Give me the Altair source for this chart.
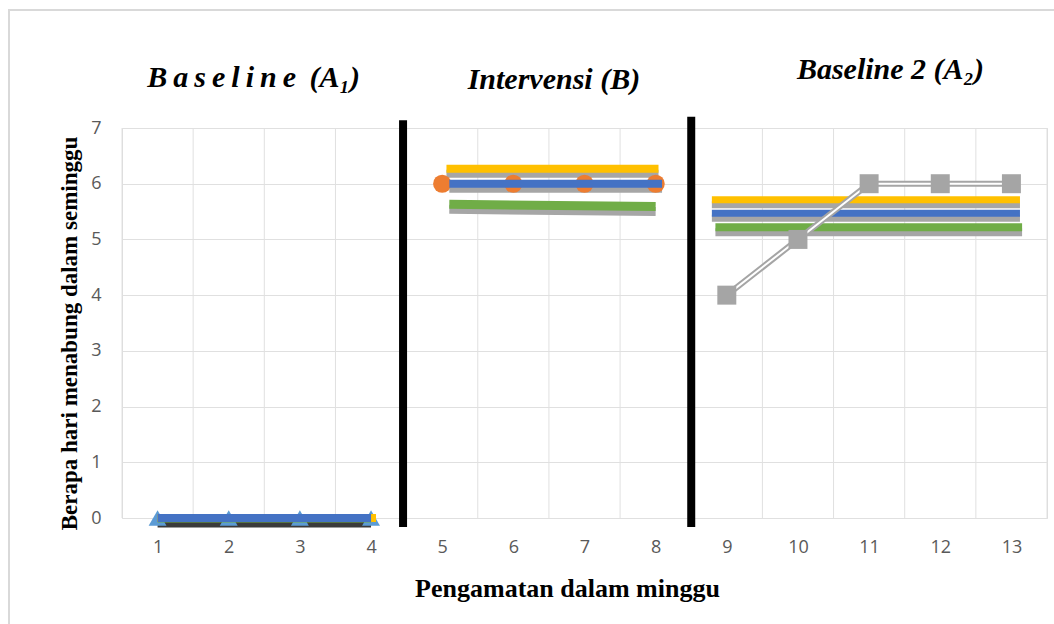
import altair as alt
import pandas as pd

# ---- data ----
weeks = [1, 2, 3, 4, 5, 6, 7, 8, 9, 10, 11, 12, 13]
y_ticks = [0, 1, 2, 3, 4, 5, 6, 7]
grid_x = [0.5, 1.5, 2.5, 3.5, 4.5, 5.5, 6.5, 7.5, 8.5, 9.5, 10.5, 11.5, 12.5, 13.5]

# Baseline A1
a1_x = [1, 2, 3, 4]
a1_y = [0, 0, 0, 0]
a1_yellow_x = [1, 4.07]
a1_yellow_y = [0, 0]

# Intervention B
b_x = [5, 6, 7, 8]
b_orange = [6, 6, 6, 6]
b_yellow_x = [5.06, 8.04]
b_yellow_y = [6.27, 6.27]
b_blue_x = [5.1, 8.09]
b_blue_y = [6.0, 6.0]
b_green_x = [5.1, 8.0]
b_green_y = [5.63, 5.59]

# Baseline A2
a2_x = [9, 10, 11, 12, 13]
a2_gray = [4, 5, 6, 6, 6]
a2_yellow_x = [8.79, 13.12]
a2_yellow_y = [5.71, 5.71]
a2_blue_x = [8.79, 13.12]
a2_blue_y = [5.47, 5.47]
a2_green_x = [8.84, 13.15]
a2_green_y = [5.22, 5.22]

# phase change lines
phase_x = [4.45, 8.5]
phase_y1 = [-0.16, -0.16]
phase_y2 = [7.14, 7.2]

# phase titles
phase_labels = ["B\u2009a\u2009s\u2009e\u2009l\u2009i\u2009n\u2009e\u2009 (A\u2081)", "Intervensi (B)", "Baseline 2 (A\u2082)"]
phase_label_x = [2.35, 6.57, 11.3]
phase_label_y = [7.9, 7.87, 8.05]

YELLOW = "#FFC000"
BLUE = "#4472C4"
ORANGE = "#ED7D31"
GRAY = "#A5A5A5"
GREEN = "#70AD47"
LBLUE = "#5B9BD5"
SHADOW = "#A6A6A6"

xs = alt.Scale(domain=[0.5, 13.5], nice=False, zero=False)
ys = alt.Scale(domain=[0, 7], nice=False, zero=False)

x_axis = alt.Axis(values=weeks, grid=False, domain=False, ticks=False, labelPadding=20,
                  labelFont="Open Sans", labelFontSize=18, labelColor="#595959",
                  title="Pengamatan dalam minggu", titleFont="Liberation Serif",
                  titleFontWeight="bold", titleFontSize=26, titleColor="#000000",
                  titleX=445, titleY=78, titleBaseline="alphabetic", titleAlign="center")
y_axis = alt.Axis(values=y_ticks, grid=True, gridColor="#e0e0e0", gridWidth=1,
                  domain=False, ticks=False, labelPadding=21,
                  labelFont="Open Sans", labelFontSize=18, labelColor="#595959",
                  title="Berapa hari menabung dalam seminggu", titleFont="Liberation Serif",
                  titleFontWeight="bold", titleFontSize=23, titleColor="#000000",
                  titleX=-53, titleY=205, titleAngle=-90, titleBaseline="middle",
                  titleAlign="center")


def X(field="x"):
    return alt.X(f"{field}:Q", scale=xs, axis=x_axis)


def Y(field="y"):
    return alt.Y(f"{field}:Q", scale=ys, axis=y_axis)


def df(x, y):
    return pd.DataFrame({"x": x, "y": y})


def line(x, y, color, width, yoff=0):
    return alt.Chart(df(x, y)).mark_line(color=color, strokeWidth=width, yOffset=yoff,
                                         clip=False, strokeCap="butt").encode(x=X(), y=Y())


def thick(x, y, color, width=8):
    return line(x, y, SHADOW, width, 5) + line(x, y, color, width)


layers = []

# outer border (decoration)
border = alt.Chart(pd.DataFrame({"a": [0]})).mark_rect(
    fill=None, stroke="#d9d9d9", strokeWidth=2, clip=False).encode(
    x=alt.value(-113), x2=alt.value(945), y=alt.value(-118), y2=alt.value(515))
layers.append(border)

# vertical gridlines
grid = alt.Chart(pd.DataFrame({"x": grid_x, "y": [0] * len(grid_x), "y2": [7] * len(grid_x)})).mark_rule(
    color="#e0e0e0", strokeWidth=1).encode(x=X(), y=Y(), y2="y2:Q")
layers.append(grid)

# Baseline A1
layers.append(line(a1_x, a1_y, "#3a3a3a", 7, 6))
layers.append(alt.Chart(df(a1_x, a1_y)).mark_point(shape="triangle-up", filled=True, size=320,
                                                  color=LBLUE, opacity=1, clip=False).encode(x=X(), y=Y()))
layers.append(line(a1_x, a1_y, GREEN, 3, 3))
layers.append(line(a1_yellow_x, a1_yellow_y, YELLOW, 8))
layers.append(line(a1_x, a1_y, BLUE, 8))

# Intervention B
layers.append(thick(b_yellow_x, b_yellow_y, YELLOW))
layers.append(line(b_blue_x, b_blue_y, SHADOW, 8, 5))
layers.append(alt.Chart(df(b_x, b_orange)).mark_circle(size=330, color=ORANGE, opacity=1,
                                                      clip=False).encode(x=X(), y=Y()))
layers.append(line(b_blue_x, b_blue_y, BLUE, 8))
layers.append(thick(b_green_x, b_green_y, GREEN, 9))

# Baseline A2
layers.append(thick(a2_yellow_x, a2_yellow_y, YELLOW, 7))
layers.append(thick(a2_blue_x, a2_blue_y, BLUE, 7))
layers.append(thick(a2_green_x, a2_green_y, GREEN, 8))
layers.append(line(a2_x, a2_gray, GRAY, 6))
layers.append(line(a2_x, a2_gray, "#ffffff", 2))
layers.append(alt.Chart(df(a2_x, a2_gray)).mark_square(size=360, color=GRAY, opacity=1,
                                                      clip=False).encode(x=X(), y=Y()))

# phase lines
phase = alt.Chart(pd.DataFrame({"x": phase_x, "y": phase_y1, "y2": phase_y2})).mark_rule(
    color="#000000", strokeWidth=8, clip=False).encode(x=X(), y=Y(), y2="y2:Q")
layers.append(phase)

# phase titles
titles = alt.Chart(pd.DataFrame({"x": phase_label_x, "y": phase_label_y, "t": phase_labels})).mark_text(
    font="Liberation Serif", fontStyle="italic", fontWeight="bold", fontSize=30,
    color="#000000", align="center", baseline="middle", clip=False).encode(
    x=X(), y=Y(), text="t:N")
layers.append(titles)

chart = alt.layer(*layers).properties(
    width=925, height=390,
    padding={"left": 122, "top": 128, "right": 7, "bottom": 106},
    autosize=alt.AutoSizeParams(type="none"),
).configure_view(stroke=None).configure(background="#ffffff")

chart.save("out.html", embed_options={"renderer": "svg", "actions": False})
